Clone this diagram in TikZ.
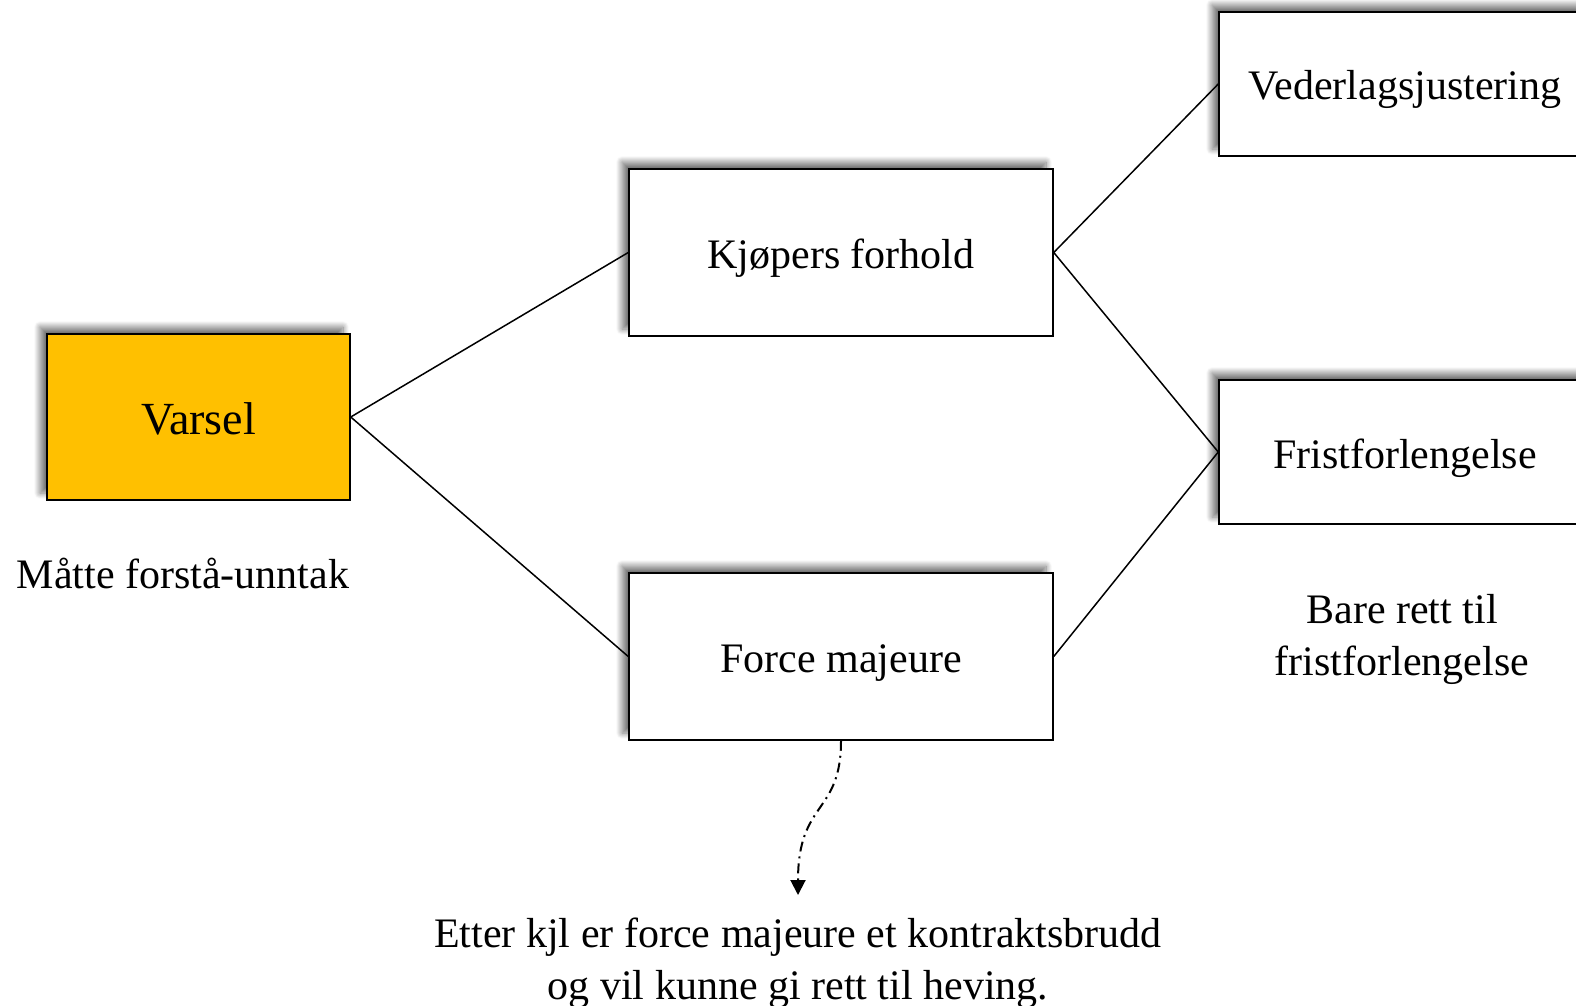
\documentclass[tikz,border=0pt]{standalone}
\usepackage{fontspec}
\setmainfont{Liberation Serif}
\usetikzlibrary{arrows.meta,shadows.blur}
\definecolor{varselgold}{RGB}{255,192,0}
\tikzset{
	box/.style={draw=black,line width=1.5pt,fill=white,rectangle,
		blur shadow={shadow xshift=-7pt,shadow yshift=7pt,shadow blur radius=6pt,shadow blur steps=12,shadow opacity=55},
		font=\fontsize{42}{48}\selectfont,text height=40pt,text depth=8pt},
	label/.style={font=\fontsize{42}{52}\selectfont,align=center},
	link/.style={line width=1.5pt}
}
\begin{document}
\begin{tikzpicture}[x=1pt,y=-1pt]
	\useasboundingbox (0,0) rectangle (1576,1006);

	% boxes
	\node[box,fill=varselgold,minimum width=303pt,minimum height=166pt,font=\fontsize{46}{52}\selectfont,text height=35pt,text depth=0pt] (varsel) at (198.5,417) {Varsel};
	\node[box,minimum width=424pt,minimum height=167pt] (kjoper) at (841,252.5) {Kjøpers forhold};
	\node[box,minimum width=424pt,minimum height=167pt] (force) at (841,656.5) {Force majeure};
	\node[box,minimum width=372pt,minimum height=144pt] (vederlag) at (1405,84) {Vederlagsjustering};
	\node[box,minimum width=372pt,minimum height=144pt] (frist) at (1405,452) {Fristforlengelse};

	% label
	\node[label] (unntak) at (183,573) {Måtte forstå-unntak};
	\node[label] (bare) at (1402,639) {Bare rett til\\fristforlengelse};
	\node[label] (heving) at (798,963) {Etter kjl er force majeure et kontraktsbrudd\\og vil kunne gi rett til heving.};

	% links
	\draw[link] (varsel.east) -- (kjoper.west);
	\draw[link] (varsel.east) -- (force.west);
	\draw[link] (kjoper.east) -- (vederlag.west);
	\draw[link] (kjoper.east) -- (frist.west);
	\draw[link] (force.east) -- (frist.west);

	% dashed arrow to heving
	\coordinate (pil) at (798,895);
	\draw[line width=2pt,dash pattern=on 10pt off 5pt on 2pt off 5pt,-{Triangle[width=15pt,length=15pt]}]
		(force.south) .. controls (841,815) and (798,800) .. (pil);
\end{tikzpicture}
\end{document}
